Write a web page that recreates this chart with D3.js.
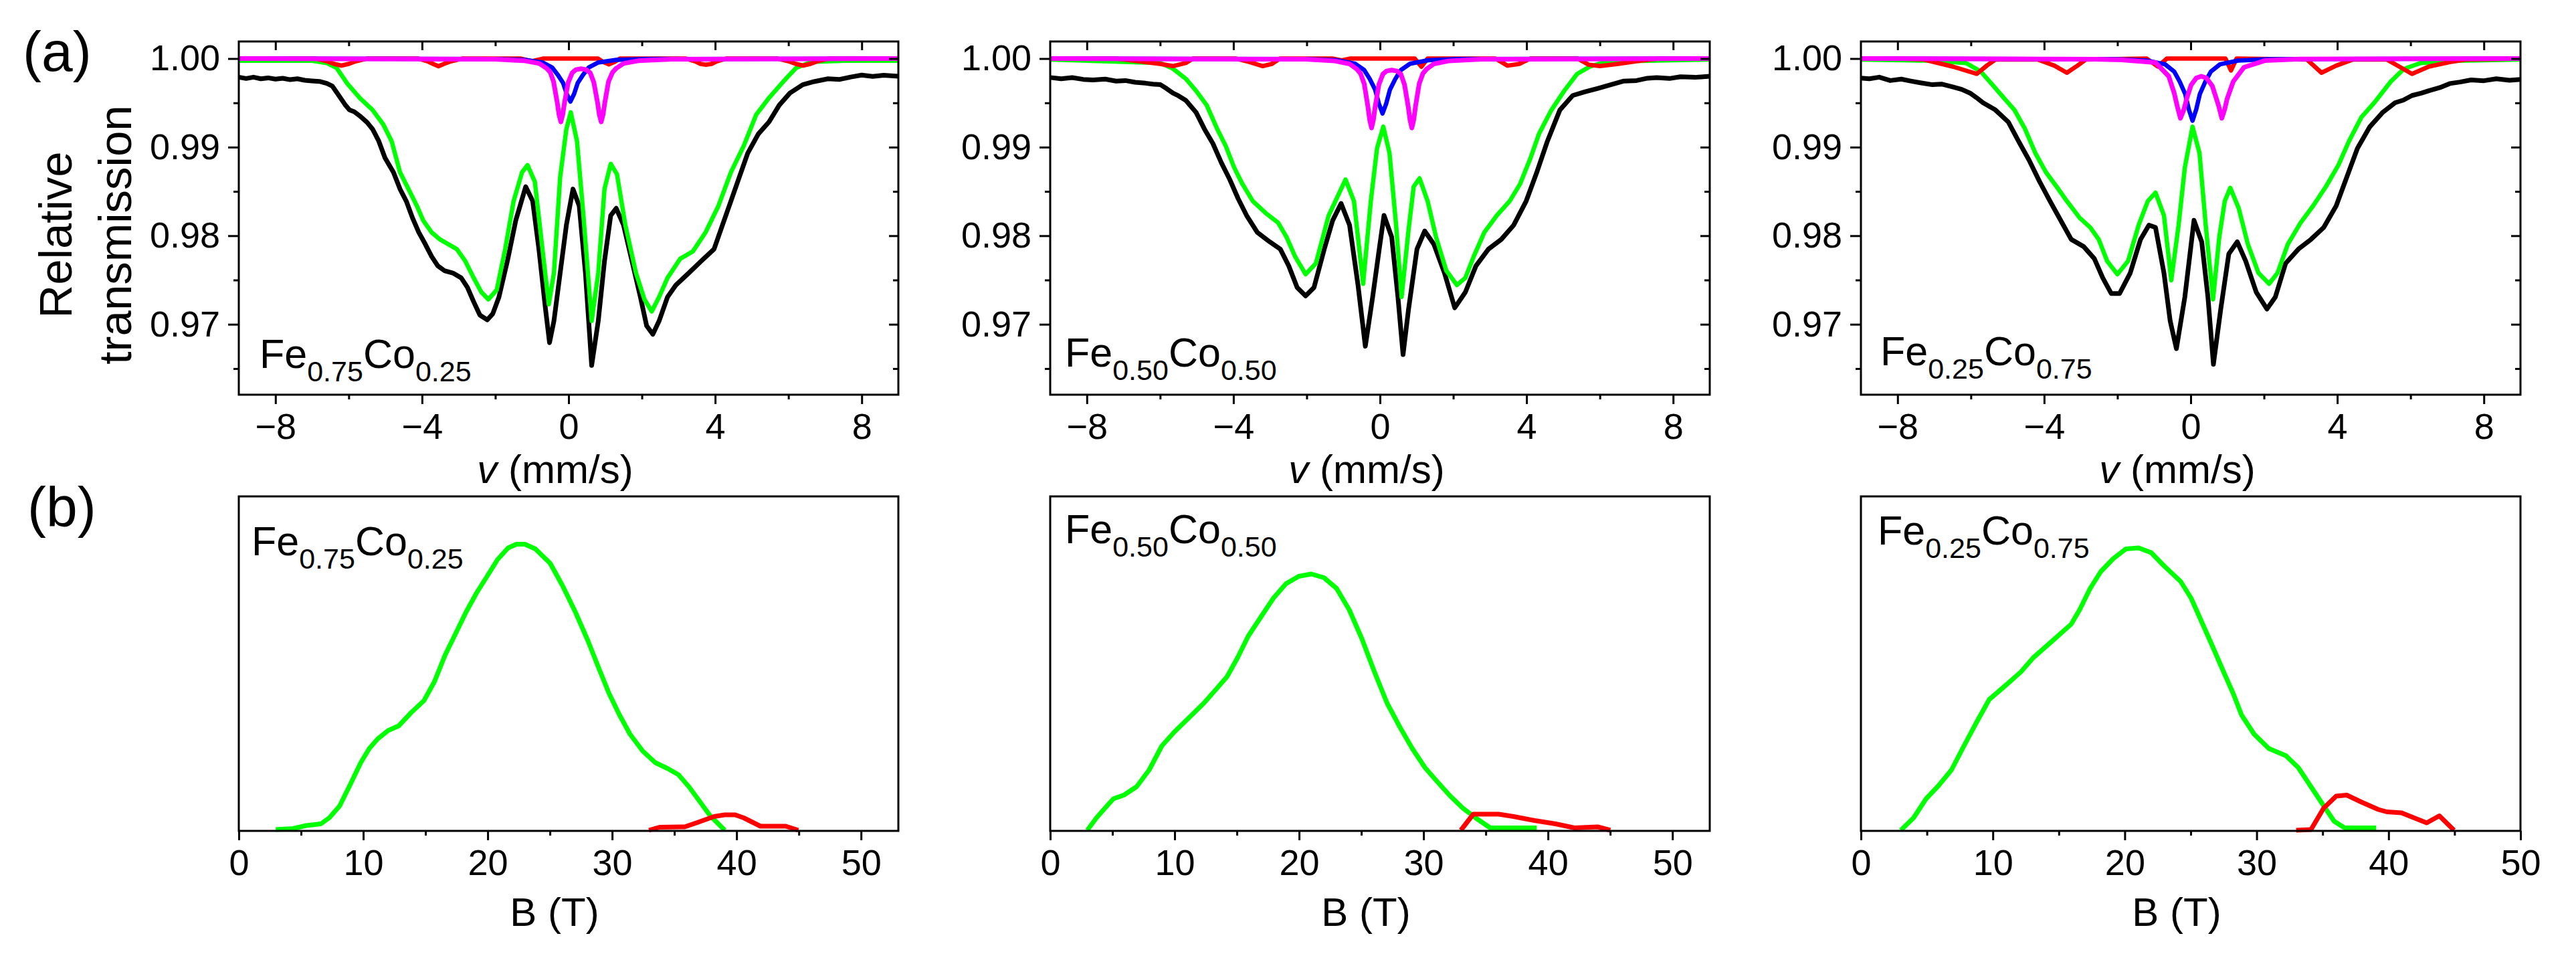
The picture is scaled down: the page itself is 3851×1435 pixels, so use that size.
<!DOCTYPE html>
<html>
<head>
<meta charset="utf-8">
<script src="https://cdn.jsdelivr.net/npm/d3@7"></script>
<style>
  body { margin: 0; background: #fff; }
  text { font-family: Arial, "Liberation Sans", sans-serif; fill: #000; }
</style>
</head>
<body>
<svg id="chart"></svg>
<script>
// ---- data ----
const samples = [
  { fe: "0.75", co: "0.25" },
  { fe: "0.50", co: "0.50" },
  { fe: "0.25", co: "0.75" }
];

const vTicks = [-8, -4, 0, 4, 8];
const vMinor = [-6, -2, 2, 6];
const tTicks = [0.97, 0.98, 0.99, 1.00];
const tMinor = [0.965, 0.975, 0.985, 0.995];
const bMax = [53, 53, 50];
const bTicks = [0, 10, 20, 30, 40, 50];
const bMinor = [5, 15, 25, 35, 45];

// measured spectra (v in mm/s, relative transmission)
const expt1 = [[-9.0,0.9979],[-8.8,0.99775],[-8.6,0.9979],[-8.4,0.99772],[-8.2,0.99782],[-8.0,0.99768],[-7.8,0.99778],[-7.6,0.99762],[-7.4,0.99772],[-7.2,0.99755],[-7.0,0.99748],[-6.8,0.99742],[-6.6,0.9972],[-6.45,0.9969],[-6.27,0.99583],[-6.1,0.9948],[-5.98,0.9942],[-5.85,0.994],[-5.7,0.99353],[-5.5,0.9928],[-5.35,0.99204],[-5.18,0.99068],[-5.01,0.98879],[-4.78,0.98716],[-4.6,0.98527],[-4.43,0.98391],[-4.26,0.98202],[-4.09,0.98039],[-3.91,0.97904],[-3.74,0.97768],[-3.57,0.9766],[-3.39,0.97606],[-3.16,0.97579],[-2.93,0.97524],[-2.76,0.97416],[-2.59,0.97254],[-2.42,0.97104],[-2.22,0.9705],[-2.07,0.97118],[-1.9,0.97308],[-1.67,0.97714],[-1.44,0.98174],[-1.17,0.98554],[-0.98,0.98391],[-0.81,0.97849],[-0.63,0.97172],[-0.52,0.96793],[-0.4,0.97037],[-0.23,0.97579],[-0.06,0.9812],[0.12,0.98527],[0.29,0.98337],[0.46,0.97579],[0.63,0.96536],[0.81,0.97037],[0.98,0.97714],[1.15,0.98229],[1.3,0.9831],[1.5,0.9812],[1.73,0.97714],[1.96,0.97308],[2.13,0.96983],[2.3,0.96888],[2.47,0.97037],[2.7,0.97308],[2.93,0.97443],[3.28,0.97579],[3.62,0.97714],[3.97,0.97849],[4.2,0.9812],[4.43,0.98391],[4.66,0.98662],[4.89,0.98933],[5.18,0.9915],[5.47,0.99285],[5.75,0.99475],[6.04,0.9961],[6.39,0.99705],[6.7,0.9974],[7.08,0.99772],[7.4,0.99765],[7.7,0.99792],[8.0,0.99813],[8.3,0.99798],[8.6,0.99812],[9.0,0.998]];
const expt2 = [[-9.0,0.99786],[-8.7,0.99772],[-8.4,0.99785],[-8.1,0.99765],[-7.83,0.99759],[-7.5,0.99768],[-7.2,0.99745],[-6.95,0.99752],[-6.68,0.99732],[-6.4,0.99722],[-6.2,0.99712],[-5.99,0.99705],[-5.82,0.9966],[-5.65,0.9961],[-5.5,0.9958],[-5.3,0.99529],[-5.02,0.99393],[-4.79,0.99204],[-4.56,0.99041],[-4.33,0.98825],[-4.1,0.98635],[-3.87,0.98418],[-3.64,0.98229],[-3.35,0.98039],[-3.01,0.97931],[-2.72,0.97849],[-2.49,0.9766],[-2.26,0.97416],[-2.03,0.97321],[-1.8,0.97416],[-1.52,0.97849],[-1.29,0.98174],[-1.06,0.98364],[-0.83,0.9812],[-0.6,0.97443],[-0.4,0.96752],[-0.2,0.97308],[-0.02,0.97849],[0.11,0.98229],[0.32,0.97985],[0.49,0.97308],[0.63,0.96658],[0.78,0.97172],[1.01,0.97849],[1.22,0.98053],[1.47,0.97904],[1.76,0.97579],[2.04,0.97186],[2.33,0.97362],[2.62,0.9766],[2.96,0.97849],[3.31,0.97958],[3.65,0.9812],[3.99,0.98391],[4.28,0.98716],[4.57,0.99068],[4.91,0.9942],[5.26,0.99583],[5.6,0.99625],[5.95,0.99664],[6.3,0.99705],[6.64,0.99745],[7.0,0.99752],[7.3,0.99778],[7.55,0.99786],[7.9,0.99775],[8.2,0.99795],[8.6,0.99788],[9.0,0.998]];
const expt3 = [[-9.0,0.9978],[-8.77,0.99772],[-8.5,0.9979],[-8.2,0.99752],[-7.9,0.99768],[-7.62,0.99745],[-7.35,0.99725],[-7.05,0.99705],[-6.8,0.99712],[-6.48,0.99678],[-6.25,0.99652],[-6.02,0.9961],[-5.85,0.9956],[-5.67,0.99502],[-5.33,0.9942],[-4.98,0.99285],[-4.7,0.99068],[-4.41,0.98852],[-4.12,0.98608],[-3.84,0.98391],[-3.55,0.98174],[-3.26,0.97958],[-2.92,0.97877],[-2.63,0.97741],[-2.4,0.97524],[-2.17,0.97348],[-1.94,0.97348],[-1.65,0.97579],[-1.37,0.97958],[-1.14,0.9812],[-0.96,0.98093],[-0.73,0.97579],[-0.56,0.97037],[-0.39,0.96725],[-0.16,0.97308],[0.09,0.98174],[0.3,0.97931],[0.47,0.97308],[0.62,0.96549],[0.82,0.97172],[1.04,0.97795],[1.27,0.97931],[1.5,0.97714],[1.79,0.97362],[2.08,0.97172],[2.31,0.97308],[2.59,0.97687],[2.94,0.97849],[3.28,0.97958],[3.63,0.98093],[3.97,0.98337],[4.26,0.98662],[4.55,0.98987],[4.89,0.99231],[5.24,0.99393],[5.58,0.99502],[5.8,0.9953],[6.04,0.99583],[6.3,0.9961],[6.5,0.99637],[6.8,0.99672],[7.07,0.99718],[7.35,0.99735],[7.65,0.99759],[8.0,0.9975],[8.34,0.99772],[8.7,0.99755],[9.0,0.99765]];

// field-distribution subspectrum (green)
const distFit1 = [[-9,0.99976],[-7.0,0.99976],[-6.6,0.9995],[-6.33,0.99894],[-6.04,0.99718],[-5.7,0.99556],[-5.35,0.9942],[-5.06,0.99258],[-4.83,0.99068],[-4.6,0.98716],[-4.37,0.98527],[-4.14,0.98337],[-3.97,0.98174],[-3.74,0.98039],[-3.51,0.97958],[-3.28,0.97904],[-3.05,0.97849],[-2.82,0.97714],[-2.59,0.97524],[-2.38,0.97362],[-2.19,0.97281],[-1.96,0.97389],[-1.73,0.97849],[-1.5,0.98391],[-1.27,0.98716],[-1.12,0.98797],[-0.92,0.98608],[-0.75,0.97985],[-0.54,0.97226],[-0.4,0.97579],[-0.23,0.98662],[-0.06,0.99204],[0.06,0.99393],[0.23,0.99068],[0.4,0.98256],[0.63,0.97037],[0.81,0.97579],[0.98,0.98527],[1.15,0.98811],[1.32,0.98695],[1.55,0.9812],[1.84,0.97579],[2.07,0.97281],[2.27,0.97145],[2.47,0.97308],[2.7,0.97524],[3.05,0.97741],[3.39,0.97822],[3.74,0.98039],[4.09,0.98337],[4.43,0.98716],[4.78,0.99014],[5.12,0.99366],[5.47,0.99556],[5.87,0.99745],[6.21,0.99894],[6.62,0.99962],[7.54,0.99976],[9,0.99976]];
const distFit2 = [[-9,0.99989],[-7.26,0.99967],[-5.99,0.99949],[-5.65,0.99886],[-5.3,0.99772],[-5.02,0.99637],[-4.73,0.99475],[-4.44,0.99204],[-4.21,0.99014],[-3.98,0.9877],[-3.75,0.98581],[-3.47,0.98391],[-3.12,0.98256],[-2.78,0.98147],[-2.55,0.97985],[-2.32,0.97768],[-2.03,0.97565],[-1.75,0.97687],[-1.4,0.98229],[-0.94,0.98635],[-0.71,0.98391],[-0.46,0.97457],[-0.25,0.98391],[-0.08,0.98987],[0.09,0.99231],[0.26,0.98933],[0.44,0.9812],[0.59,0.97308],[0.78,0.98066],[0.92,0.98554],[1.08,0.98648],[1.3,0.98391],[1.53,0.97985],[1.81,0.97606],[2.1,0.97443],[2.33,0.97524],[2.56,0.97768],[2.85,0.98039],[3.19,0.98229],[3.54,0.98391],[3.82,0.98581],[4.11,0.98879],[4.34,0.9915],[4.68,0.9942],[5.03,0.99637],[5.38,0.99827],[5.72,0.99908],[6.18,0.99967],[9,0.99989]];
const distFit3 = [[-9,0.99989],[-7.05,0.99976],[-6.13,0.99949],[-5.73,0.99854],[-5.44,0.99718],[-5.1,0.99556],[-4.81,0.9942],[-4.52,0.99204],[-4.24,0.98933],[-3.95,0.98716],[-3.66,0.98554],[-3.38,0.98391],[-3.03,0.98202],[-2.74,0.98093],[-2.51,0.97958],[-2.28,0.97714],[-2.0,0.97565],[-1.71,0.97714],[-1.42,0.9812],[-1.17,0.98391],[-0.96,0.98486],[-0.73,0.98229],[-0.53,0.97497],[-0.33,0.9812],[-0.16,0.9877],[0.05,0.99231],[0.24,0.98933],[0.41,0.9812],[0.61,0.97281],[0.78,0.97985],[0.93,0.98391],[1.08,0.9854],[1.31,0.9831],[1.56,0.97904],[1.85,0.97579],[2.14,0.97457],[2.37,0.97579],[2.65,0.97904],[3.0,0.98147],[3.34,0.98337],[3.69,0.98554],[4.03,0.98797],[4.32,0.99068],[4.66,0.99339],[5.01,0.99502],[5.47,0.99745],[5.81,0.99881],[6.27,0.99949],[7.3,0.99976],[9,0.99989]];

// sextet (red)
const sextet1 = [[-9,1],[-6.9,1],[-6.6,0.9997],[-6.4,0.9994],[-6.2,0.99921],[-6.0,0.9994],[-5.8,0.9997],[-5.5,1],[-4.1,1],[-3.85,0.9997],[-3.7,0.9994],[-3.55,0.99913],[-3.4,0.9994],[-3.2,0.9997],[-2.9,1],[-1.3,1],[-1.0,0.9997],[-0.7,1],[0.8,1],[0.95,0.9996],[1.1,0.99935],[1.25,0.9996],[1.4,1],[3.2,1],[3.45,0.9997],[3.6,0.9994],[3.75,0.9993],[3.9,0.9994],[4.05,0.9997],[4.3,1],[5.7,1],[6.0,0.9997],[6.2,0.9994],[6.4,0.99921],[6.6,0.9994],[6.8,0.9997],[7.1,1],[9,1]];
const sextet2 = [[-9,1],[-7.2,1],[-6.6,0.9997],[-6.0,0.9994],[-5.65,0.99915],[-5.3,0.9995],[-5.1,1],[-3.93,1],[-3.55,0.9996],[-3.2,0.99915],[-2.95,0.9994],[-2.73,1],[-1.3,1],[-1.05,0.9998],[-0.8,1],[0.95,1],[1.13,0.99908],[1.3,1],[3.15,1],[3.48,0.9992],[3.8,0.9994],[4.1,1],[5.4,1],[5.7,0.9993],[6.0,0.99915],[6.5,0.9994],[7.0,0.9997],[7.6,1],[9,1]];
const sextet3 = [[-9,1],[-7.9,1],[-7.28,0.99989],[-6.48,0.99908],[-5.84,0.99827],[-5.56,0.99922],[-5.33,0.99989],[-4.18,0.9999],[-3.72,0.9992],[-3.38,0.9984],[-3.09,0.9992],[-2.86,0.9999],[-1.2,1],[-0.9,0.9991],[-0.65,1],[0.95,1],[1.1,0.99865],[1.25,1],[3.17,0.9999],[3.57,0.9984],[3.97,0.9992],[4.43,0.9999],[5.35,0.9999],[5.69,0.9991],[6.04,0.99827],[6.5,0.9991],[7.07,0.9996],[7.53,0.9999],[9,1]];

// singlet (blue)
const singlet1 = [[-9,1],[-2.0,0.99995],[-1.2,0.99985],[-0.7,0.99955],[-0.45,0.999],[-0.3,0.9982],[-0.15,0.99725],[-0.05,0.996],[0.05,0.99515],[0.15,0.996],[0.25,0.99725],[0.4,0.9982],[0.55,0.999],[0.8,0.99955],[1.3,0.99985],[2.1,0.99995],[9,1]];
const singlet2 = [[-9,1],[-1.98,0.99994],[-1.18,0.99981],[-0.68,0.99942],[-0.43,0.9987],[-0.28,0.99771],[-0.13,0.99647],[-0.03,0.99492],[0.07,0.9938],[0.17,0.99492],[0.27,0.99647],[0.42,0.99771],[0.57,0.9987],[0.82,0.99942],[1.32,0.99981],[2.12,0.99994],[9,1]];
const singlet3 = [[-9,1],[-2.0,0.99993],[-1.2,0.99978],[-0.7,0.99935],[-0.45,0.99853],[-0.3,0.9974],[-0.15,0.996],[-0.05,0.99424],[0.05,0.99298],[0.15,0.99424],[0.25,0.996],[0.4,0.9974],[0.55,0.99853],[0.8,0.99935],[1.3,0.99978],[2.1,0.99993],[9,1]];

// quadrupole doublet (magenta)
const doublet1 = [[-9,1],[-2.0,0.99992],[-1.2,0.99975],[-0.8,0.99945],[-0.6,0.9989],[-0.5,0.99845],[-0.41,0.9974],[-0.31,0.99505],[-0.26,0.99365],[-0.21,0.99285],[-0.16,0.99365],[-0.11,0.99505],[-0.01,0.9973],[0.1,0.9984],[0.2,0.99875],[0.34,0.99885],[0.48,0.99875],[0.59,0.9984],[0.69,0.9973],[0.79,0.99505],[0.84,0.99365],[0.89,0.99285],[0.94,0.99365],[0.99,0.99505],[1.09,0.9974],[1.2,0.99845],[1.3,0.9989],[1.5,0.99945],[1.9,0.99975],[2.8,0.99992],[9,1]];
const doublet2 = [[-9,1],[-2.03,0.99992],[-1.23,0.99973],[-0.83,0.9994],[-0.63,0.9988],[-0.53,0.9983],[-0.43,0.99715],[-0.33,0.9946],[-0.28,0.99305],[-0.23,0.99217],[-0.18,0.99305],[-0.13,0.9946],[-0.03,0.99705],[0.08,0.99825],[0.18,0.9986],[0.32,0.9987],[0.46,0.9986],[0.57,0.99825],[0.67,0.99705],[0.77,0.9946],[0.82,0.99305],[0.87,0.99217],[0.92,0.99305],[0.97,0.9946],[1.07,0.99715],[1.17,0.9983],[1.27,0.9988],[1.47,0.9994],[1.87,0.99973],[2.77,0.99992],[9,1]];
const doublet3 = [[-9,1],[-2.6,0.99993],[-1.88,0.99985],[-0.96,0.99955],[-0.6,0.998],[-0.45,0.9961],[-0.36,0.9945],[-0.28,0.99326],[-0.19,0.9942],[-0.1,0.9956],[0.01,0.997],[0.15,0.9978],[0.29,0.998],[0.43,0.9978],[0.59,0.9969],[0.76,0.9947],[0.85,0.99326],[0.93,0.9943],[0.99,0.9954],[1.16,0.9974],[1.45,0.999],[2.02,0.99977],[3.0,0.99994],[9,1]];

// hyperfine field distributions P(B), arbitrary units (B in T)
const pB1 = [[2.97,0.004],[4.39,0.007],[5.41,0.016],[6.59,0.021],[7.27,0.039],[8.11,0.075],[8.96,0.139],[9.8,0.204],[10.48,0.246],[11.16,0.275],[12.0,0.3],[12.85,0.314],[13.86,0.354],[14.87,0.389],[15.72,0.446],[16.57,0.525],[17.41,0.589],[18.26,0.654],[19.1,0.711],[19.95,0.761],[20.79,0.811],[21.64,0.846],[22.31,0.857],[22.99,0.857],[23.83,0.843],[25.02,0.8],[26.03,0.732],[27.05,0.654],[28.06,0.568],[28.9,0.489],[29.75,0.411],[30.6,0.346],[31.44,0.289],[32.45,0.239],[33.47,0.204],[34.48,0.186],[35.33,0.168],[36.17,0.132],[37.02,0.089],[37.86,0.046],[39.05,0.002]];
const pB2 = [[2.98,0.002],[3.72,0.039],[4.4,0.068],[5.08,0.096],[5.92,0.107],[6.94,0.132],[7.95,0.182],[8.97,0.254],[9.98,0.296],[11.17,0.339],[12.35,0.382],[13.37,0.425],[14.21,0.461],[15.06,0.518],[15.91,0.582],[16.92,0.639],[17.94,0.696],[18.95,0.739],[19.97,0.761],[20.98,0.768],[22.0,0.757],[23.01,0.725],[24.03,0.661],[25.04,0.575],[26.06,0.475],[27.07,0.382],[28.09,0.311],[29.1,0.246],[30.12,0.189],[31.13,0.146],[32.15,0.104],[33.16,0.068],[34.18,0.039],[35.36,0.009],[39.09,0.009]];
const pB3 = [[3.03,0.002],[3.99,0.039],[4.94,0.096],[5.9,0.136],[6.86,0.182],[7.81,0.254],[8.77,0.325],[9.73,0.393],[11.0,0.436],[12.12,0.475],[13.07,0.518],[14.51,0.568],[15.94,0.618],[16.58,0.661],[17.38,0.725],[18.18,0.775],[19.13,0.814],[20.09,0.843],[21.05,0.846],[22.0,0.832],[22.96,0.793],[24.23,0.746],[25.03,0.696],[25.83,0.625],[26.63,0.554],[27.42,0.482],[28.22,0.411],[28.86,0.346],[29.81,0.289],[30.93,0.246],[32.21,0.225],[33.16,0.189],[34.12,0.132],[35.08,0.075],[35.87,0.029],[36.67,0.009],[39.06,0.009]];
const pBhigh1 = [[32.96,0.002],[33.81,0.011],[35.83,0.012],[36.85,0.025],[38.2,0.043],[39.05,0.048],[39.89,0.048],[40.57,0.039],[41.92,0.014],[43.95,0.014],[44.96,0.002]];
const pBhigh2 = [[33.0,0.002],[34.0,0.05],[36.04,0.05],[37.23,0.043],[38.92,0.031],[40.61,0.021],[42.13,0.009],[43.99,0.012],[45.01,0.002]];
const pBhigh3 = [[33.0,0.002],[34.12,0.004],[35.08,0.068],[36.03,0.104],[36.83,0.107],[37.95,0.086],[39.22,0.064],[39.86,0.057],[40.98,0.054],[41.93,0.039],[42.89,0.024],[43.85,0.045],[44.96,0.002]];

const expts = [expt1, expt2, expt3];
const distFits = [distFit1, distFit2, distFit3];
const sextets = [sextet1, sextet2, sextet3];
const singlets = [singlet1, singlet2, singlet3];
const doublets = [doublet1, doublet2, doublet3];
const pBs = [pB1, pB2, pB3];
const pBhighs = [pBhigh1, pBhigh2, pBhigh3];

// ---- layout ----
const width = 3851, height = 1435;
const panelLeft = [357, 1570, 2782];
const panelW = 986;
const topY = [62, 590];
const botY = [742, 1242];
const labelTopX = [31, 22, 29];
const labelTopY = [550, 548, 546];
const labelBotX = [19, 22, 25];
const labelBotY = [830, 812, 814];

const svg = d3.select('#chart')
    .attr('width', width)
    .attr('height', height);

svg.append('rect').attr('width', width).attr('height', height).attr('fill', '#fff');

const tickFont = 54;

const styleAxis = (g, withText) => {
    g.select('.domain').remove();
    g.selectAll('.tick line').attr('stroke', '#000').attr('stroke-width', 3);
    if (withText) {
        g.selectAll('.tick text')
            .style('font-size', tickFont + 'px')
            .style('font-family', 'Arial, "Liberation Sans", sans-serif')
            .attr('fill', '#000');
    } else {
        g.selectAll('.tick text').remove();
    }
};

const sampleLabel = (x, y, s) => {
    const t = svg.append('text')
        .attr('x', x)
        .attr('y', y)
        .style('font-size', '61px');
    t.append('tspan').text('Fe');
    t.append('tspan').attr('dy', 20).style('font-size', '43px').text(s.fe);
    t.append('tspan').attr('dy', -20).text('Co');
    t.append('tspan').attr('dy', 20).style('font-size', '43px').text(s.co);
};

samples.forEach((s, i) => {
    const x0 = panelLeft[i];

    // (a) Moessbauer spectra
    const x = d3.scaleLinear().domain([-9, 9]).range([x0, x0 + panelW]);
    const y = d3.scaleLinear().domain([0.96205, 1.00193]).range([topY[1], topY[0]]);
    const line = d3.line().x(d => x(d[0])).y(d => y(d[1]));

    const curves = [
        { data: expts[i], color: '#000000', w: 7 },
        { data: distFits[i], color: '#00ff00', w: 6.5 },
        { data: sextets[i], color: '#ff0000', w: 6.5 },
        { data: singlets[i], color: '#0000ff', w: 6.5 },
        { data: doublets[i], color: '#ff00ff', w: 7 }
    ];
    svg.append('g').selectAll('path')
        .data(curves)
        .join('path')
        .attr('d', d => line(d.data))
        .attr('fill', 'none')
        .attr('stroke', d => d.color)
        .attr('stroke-width', d => d.w)
        .attr('stroke-linejoin', 'round');

    svg.append('g').attr('transform', `translate(0,${topY[1]})`)
        .call(d3.axisBottom(x).tickValues(vTicks).tickSize(14).tickPadding(14))
        .call(g => styleAxis(g, true));
    svg.append('g').attr('transform', `translate(0,${topY[1]})`)
        .call(d3.axisBottom(x).tickValues(vMinor).tickSize(7))
        .call(g => styleAxis(g, false));
    svg.append('g').attr('transform', `translate(0,${topY[0]})`)
        .call(d3.axisBottom(x).tickValues(vTicks).tickSize(13))
        .call(g => styleAxis(g, false));
    svg.append('g').attr('transform', `translate(0,${topY[0]})`)
        .call(d3.axisBottom(x).tickValues(vMinor).tickSize(7))
        .call(g => styleAxis(g, false));
    svg.append('g').attr('transform', `translate(${x0},0)`)
        .call(d3.axisLeft(y).tickValues(tTicks).tickSize(16).tickPadding(12).tickFormat(d3.format('.2f')))
        .call(g => styleAxis(g, true));
    svg.append('g').attr('transform', `translate(${x0},0)`)
        .call(d3.axisLeft(y).tickValues(tMinor).tickSize(8))
        .call(g => styleAxis(g, false));
    svg.append('g').attr('transform', `translate(${x0 + panelW},0)`)
        .call(d3.axisRight(y).tickValues(tTicks).tickSize(-14))
        .call(g => styleAxis(g, false));
    svg.append('g').attr('transform', `translate(${x0 + panelW},0)`)
        .call(d3.axisRight(y).tickValues(tMinor).tickSize(-8))
        .call(g => styleAxis(g, false));

    svg.append('rect')
        .attr('x', x0).attr('y', topY[0])
        .attr('width', panelW).attr('height', topY[1] - topY[0])
        .attr('fill', 'none').attr('stroke', '#000').attr('stroke-width', 3);

    const vt = svg.append('text')
        .attr('x', x0 + panelW / 2 - 20)
        .attr('y', 722)
        .attr('text-anchor', 'middle')
        .style('font-size', '60px');
    vt.append('tspan').style('font-style', 'italic').text('v');
    vt.append('tspan').text(' (mm/s)');

    sampleLabel(x0 + labelTopX[i], labelTopY[i], s);

    // (b) field distributions
    const xb = d3.scaleLinear().domain([0, bMax[i]]).range([x0, x0 + panelW]);
    const yb = d3.scaleLinear().domain([0, 1]).range([botY[1], botY[0]]);
    const lineB = d3.line().x(d => xb(d[0])).y(d => yb(d[1]));

    svg.append('g').selectAll('path')
        .data([{ data: pBs[i], color: '#00ff00' }, { data: pBhighs[i], color: '#ff0000' }])
        .join('path')
        .attr('d', d => lineB(d.data))
        .attr('fill', 'none')
        .attr('stroke', d => d.color)
        .attr('stroke-width', 7)
        .attr('stroke-linejoin', 'round');

    svg.append('g').attr('transform', `translate(0,${botY[1]})`)
        .call(d3.axisBottom(xb).tickValues(bTicks.filter(t => t <= bMax[i])).tickSize(14).tickPadding(14))
        .call(g => styleAxis(g, true));
    svg.append('g').attr('transform', `translate(0,${botY[1]})`)
        .call(d3.axisBottom(xb).tickValues(bMinor).tickSize(7))
        .call(g => styleAxis(g, false));

    svg.append('rect')
        .attr('x', x0).attr('y', botY[0])
        .attr('width', panelW).attr('height', botY[1] - botY[0])
        .attr('fill', 'none').attr('stroke', '#000').attr('stroke-width', 3);

    svg.append('text')
        .attr('x', x0 + panelW / 2 - 21)
        .attr('y', 1384)
        .attr('text-anchor', 'middle')
        .style('font-size', '60px')
        .text('B (T)');

    sampleLabel(x0 + labelBotX[i], labelBotY[i], s);
});

// y-axis title and panel letters
svg.append('text')
    .attr('transform', 'translate(107,351) rotate(-90)')
    .attr('text-anchor', 'middle')
    .style('font-size', '69px')
    .text('Relative');
svg.append('text')
    .attr('transform', 'translate(196,351) rotate(-90)')
    .attr('text-anchor', 'middle')
    .style('font-size', '69px')
    .text('transmission');

svg.append('text').attr('x', 34).attr('y', 106).style('font-size', '84px').text('(a)');
svg.append('text').attr('x', 41).attr('y', 787).style('font-size', '84px').text('(b)');
</script>
</body>
</html>
